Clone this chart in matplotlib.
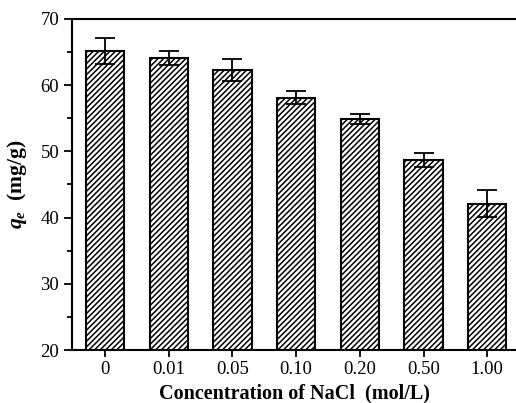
import numpy as np
import matplotlib
matplotlib.use("Agg")
import matplotlib.pyplot as plt
from matplotlib.ticker import MultipleLocator

# Data
concentrations = ["0", "0.01", "0.05", "0.10", "0.20", "0.50", "1.00"]
qe_values = [65.2, 64.1, 62.3, 58.1, 54.9, 48.7, 42.1]
qe_errors = [2.0, 1.1, 1.7, 1.0, 0.8, 1.1, 2.0]

plt.rcParams['font.family'] = ['Liberation Serif', 'DejaVu Serif']
plt.rcParams['hatch.linewidth'] = 1.1
plt.rcParams['mathtext.fontset'] = 'custom'
plt.rcParams['mathtext.rm'] = 'Liberation Serif'
plt.rcParams['mathtext.it'] = 'Liberation Serif:italic:bold'
plt.rcParams['mathtext.bf'] = 'Liberation Serif:bold'

fig = plt.figure(figsize=(5.16, 4.03), dpi=100)
ax = fig.add_axes([0.1405, 0.1315, 0.8595, 0.8214])

x = np.arange(len(concentrations))
ax.bar(x, qe_values, width=0.6, color="white", edgecolor="black",
       linewidth=1.5, hatch="//////", zorder=2)
ax.errorbar(x, qe_values, yerr=qe_errors, fmt="none", ecolor="black",
            elinewidth=1.3, capsize=7.5, capthick=1.3, zorder=3)

ax.set_xlim(-0.51, 6.45)
ax.set_ylim(20, 70)
ax.yaxis.set_major_locator(MultipleLocator(10))
ax.yaxis.set_minor_locator(MultipleLocator(5))
ax.set_xticks(x)
ax.set_xticklabels(concentrations)

ax.spines['right'].set_visible(False)
for side in ['left', 'bottom', 'top']:
    ax.spines[side].set_linewidth(1.5)

ax.tick_params(axis='both', which='major', direction='out', length=6,
               width=1.3, labelsize=13.5)
ax.tick_params(axis='y', which='minor', direction='out', length=3.5, width=1.3)
ax.tick_params(axis='x', which='major', length=5, pad=3)

ax.set_xlabel("Concentration of NaCl  (mol/L)", fontsize=14.5,
              fontweight='bold', labelpad=4)
ax.set_ylabel(r"$q_e$  (mg/g)", fontsize=15.5,
              fontweight='bold', labelpad=8)

fig.savefig("out.png", dpi=100)
